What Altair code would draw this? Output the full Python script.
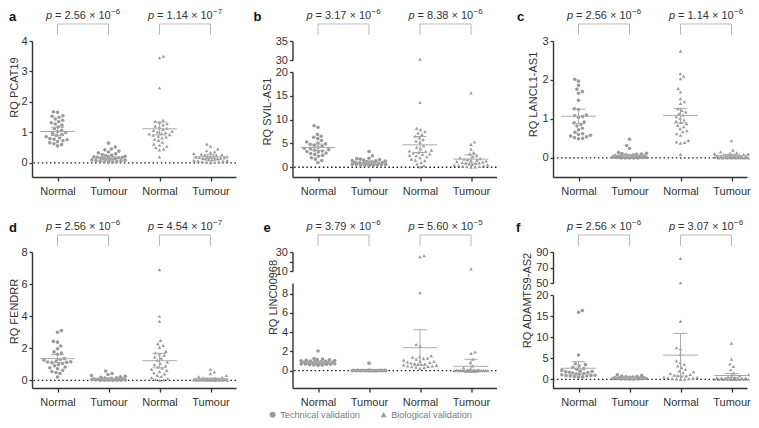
import math
import pandas as pd
import altair as alt

# ---------------- data ----------------
a_n1 = [1.68,1.66,1.55,1.53,1.50,1.44,1.40,1.36,1.32,1.28,1.24,1.18,1.12,1.07,1.03,1.00,0.97,0.93,0.90,0.86,0.82,0.80,0.78,0.76,0.73,0.70,0.66,0.63,0.60,0.56]
a_t1 = [0.65,0.52,0.46,0.43,0.39,0.36,0.33,0.30,0.28,0.26,0.24,0.22,0.21,0.20,0.19,0.18,0.17,0.16,0.15,0.14,0.13,0.12,0.11,0.10,0.09,0.08,0.07,0.06,0.05,0.04,0.03,0.02]
a_n2 = [3.50,3.45,2.46,1.40,1.37,1.33,1.29,1.25,1.21,1.18,1.14,1.10,1.07,1.04,1.02,0.99,0.97,0.95,0.93,0.91,0.88,0.85,0.82,0.78,0.74,0.68,0.62,0.58,0.55,0.50,0.46,0.43,0.20]
a_t2 = [0.62,0.55,0.46,0.40,0.37,0.34,0.31,0.29,0.27,0.25,0.24,0.23,0.22,0.21,0.20,0.19,0.18,0.17,0.16,0.15,0.14,0.13,0.12,0.11,0.10,0.09,0.08,0.07,0.06,0.05,0.04,0.03,0.02,0.01]
a_mean = [1.03, 0.16, 1.12, 0.20]
a_lo = [0.90, 0.11, 0.92, 0.14]
a_hi = [1.17, 0.21, 1.34, 0.27]
a_p = ["2.56", "1.14"]
a_exp = ["\u22126", "\u22127"]

b_n1 = [8.7,8.4,6.9,6.5,6.3,6.0,5.6,5.3,5.1,4.9,4.8,4.6,4.4,4.2,4.0,3.9,3.7,3.6,3.4,3.3,3.2,3.0,2.9,2.7,2.5,2.3,2.0,1.7,1.4,1.0]
b_t1 = [3.3,2.4,1.9,1.8,1.7,1.6,1.5,1.4,1.35,1.3,1.2,1.15,1.1,1.05,1.0,0.95,0.9,0.85,0.8,0.75,0.7,0.65,0.6,0.55,0.5,0.45,0.4,0.35,0.3,0.25]
b_n2 = [30.2,13.6,8.2,7.9,7.5,7.2,6.9,6.5,6.2,5.8,5.5,5.2,4.5,4.2,3.9,3.6,3.4,3.3,3.1,3.0,2.8,2.7,2.5,2.4,2.2,2.0,1.7,1.5,1.4,1.0,0.7,0.3,0.05]
b_t2 = [15.6,5.3,4.8,3.8,3.1,2.8,2.4,2.2,2.0,1.8,1.7,1.6,1.5,1.4,1.3,1.2,1.1,1.0,0.9,0.85,0.8,0.7,0.6,0.5,0.45,0.4,0.3,0.2,0.15,0.1,0.05,0.02]
b_mean = [4.15, 1.0, 4.7, 1.7]
b_lo = [3.5, 0.8, 3.1, 0.85]
b_hi = [4.85, 1.2, 6.45, 2.6]
b_p = ["3.17", "8.38"]
b_exp = ["\u22126", "\u22126"]

c_n1 = [2.02,1.97,1.86,1.76,1.70,1.66,1.48,1.26,1.24,1.10,1.08,1.06,1.04,0.92,0.90,0.86,0.82,0.76,0.72,0.66,0.62,0.60,0.58,0.56,0.54,0.52,0.50,0.49]
c_t1 = [0.48,0.32,0.24,0.14,0.12,0.11,0.10,0.09,0.08,0.07,0.06,0.06,0.05,0.05,0.04,0.04,0.03,0.03,0.02,0.02,0.01,0.01,0.01,0.0,0.0,0.0,0.0,0.0]
c_n2 = [2.74,2.16,2.10,2.03,1.78,1.69,1.52,1.44,1.40,1.26,1.22,1.18,1.14,1.10,1.06,1.02,0.98,0.94,0.91,0.88,0.84,0.80,0.75,0.70,0.67,0.62,0.58,0.45,0.41,0.40,0.38,0.09]
c_t2 = [0.44,0.20,0.15,0.13,0.12,0.11,0.10,0.09,0.08,0.07,0.06,0.06,0.05,0.05,0.04,0.04,0.03,0.03,0.02,0.02,0.01,0.01,0.0,0.0,0.0,0.0,0.0,0.0,0.0,0.0]
c_mean = [1.07, 0.06, 1.09, 0.06]
c_lo = [0.88, 0.03, 0.90, 0.03]
c_hi = [1.25, 0.09, 1.27, 0.09]
c_p = ["2.56", "1.14"]
c_exp = ["\u22126", "\u22126"]

d_n1 = [3.1,3.0,2.43,2.38,2.14,1.97,1.77,1.70,1.62,1.35,1.30,1.26,1.20,1.16,1.14,1.12,1.10,1.05,0.98,0.90,0.83,0.78,0.72,0.62,0.55,0.48,0.42,0.21]
d_t1 = [0.58,0.42,0.36,0.30,0.25,0.22,0.19,0.16,0.14,0.12,0.10,0.09,0.08,0.07,0.06,0.05,0.05,0.04,0.03,0.03,0.02,0.02,0.01,0.01,0.0,0.0,0.0,0.0]
d_n2 = [6.9,3.99,3.68,2.49,2.29,2.18,2.05,1.80,1.72,1.65,1.56,1.45,1.38,1.25,1.14,1.05,0.98,0.90,0.83,0.76,0.70,0.62,0.55,0.48,0.40,0.32,0.24,0.16,0.10,0.05,0.02,0.0]
d_t2 = [0.69,0.52,0.42,0.30,0.22,0.18,0.15,0.13,0.11,0.10,0.09,0.08,0.07,0.06,0.05,0.05,0.04,0.04,0.03,0.03,0.02,0.02,0.01,0.01,0.0,0.0,0.0,0.0,0.0,0.0]
d_mean = [1.35, 0.08, 1.22, 0.10]
d_lo = [1.10, 0.05, 0.78, 0.06]
d_hi = [1.60, 0.11, 1.68, 0.14]
d_p = ["2.56", "4.54"]
d_exp = ["\u22126", "\u22127"]

e_n1 = [2.04,1.26,1.20,1.15,1.12,1.08,1.05,1.02,1.0,0.98,0.95,0.92,0.9,0.88,0.86,0.84,0.82,0.80,0.78,0.76,0.74,0.72,0.70,0.68,0.66,0.64,0.62,0.60,0.58,0.55]
e_t1 = [0.78,0.05,0.04,0.04,0.03,0.03,0.03,0.02,0.02,0.02,0.02,0.01,0.01,0.01,0.01,0.01,0.0,0.0,0.0,0.0,0.0,0.0,0.0,0.0,0.0,0.0,0.0,0.0]
e_n2 = [26.0,25.0,8.1,2.72,2.55,1.53,1.45,1.40,1.30,1.25,1.19,1.10,1.00,0.95,0.90,0.85,0.80,0.75,0.72,0.68,0.65,0.60,0.55,0.50,0.48,0.45,0.40,0.35,0.30,0.24]
e_t2 = [12.1,1.94,1.80,1.19,0.85,0.50,0.30,0.15,0.10,0.08,0.06,0.05,0.04,0.03,0.02,0.02,0.01,0.01,0.0,0.0,0.0,0.0,0.0,0.0,0.0,0.0,0.0,0.0]
e_mean = [0.85, 0.02, 2.38, 0.45]
e_lo = [0.78, 0.0, 0.52, -0.20]
e_hi = [0.92, 0.05, 4.25, 1.18]
e_p = ["3.79", "5.60"]
e_exp = ["\u22126", "\u22125"]

f_n1 = [16.3,15.9,5.8,3.7,3.5,3.2,2.9,2.6,2.4,2.2,2.0,1.9,1.8,1.7,1.6,1.5,1.4,1.3,1.2,1.1,1.0,0.95,0.9,0.85,0.8,0.7,0.6,0.5]
f_t1 = [1.1,0.9,0.8,0.7,0.6,0.55,0.5,0.45,0.4,0.38,0.35,0.32,0.3,0.28,0.25,0.22,0.2,0.18,0.15,0.12,0.1,0.08,0.05,0.03]
f_n2 = [81.6,50.4,13.8,7.5,7.2,6.0,4.4,4.0,3.6,3.2,2.8,2.4,2.0,1.8,1.6,1.4,1.2,1.0,0.9,0.8,0.7,0.6,0.5,0.4,0.3,0.2,0.15,0.1,0.05,0.0]
f_t2 = [8.56,4.8,3.66,3.1,2.3,1.56,1.1,0.9,0.7,0.6,0.5,0.4,0.35,0.3,0.25,0.2,0.15,0.1,0.08,0.05,0.03,0.02,0.0,0.0,0.0,0.0,0.0,0.0]
f_mean = [2.65, 0.30, 5.76, 0.93]
f_lo = [1.30, 0.20, 0.80, 0.45]
f_hi = [4.20, 0.40, 10.9, 1.40]
f_p = ["2.56", "3.07"]
f_exp = ["\u22126", "\u22126"]

group_labels = ["Normal", "Tumour", "Normal", "Tumour"]
val_types = ["Technical validation", "Technical validation",
             "Biological validation", "Biological validation"]
legend_names = ["Technical validation", "Biological validation"]

# ---------------- style ----------------
FONT = "Liberation Sans"
DARK = "#333333"
PT = "#9b9b9b"
LN = "#a9a9a9"
BR = "#b8b8b8"
PXG = 51.0   # pixels between group centres
H = 136      # plot height of every panel
GAP = 12     # axis-break gap

panels = [
    dict(letter="a", ldx=-23, ytitle="RQ PCAT19", ty=46, tp=1, width=204,
         vals=[a_n1, a_t1, a_n2, a_t2], mean=a_mean, lo=a_lo, hi=a_hi, p=a_p, ex=a_exp,
         low=dict(domain=[-0.46, 4], ticks=[0, 1, 2, 3, 4]), up=None),
    dict(letter="b", ldx=-39, ytitle="RQ SVIL-AS1", ty=70, tp=3, width=204,
         vals=[b_n1, b_t1, b_n2, b_t2], mean=b_mean, lo=b_lo, hi=b_hi, p=b_p, ex=b_exp,
         low=dict(domain=[-2.05, 20], ticks=[0, 5, 10, 15, 20]),
         up=dict(domain=[30, 35], ticks=[30, 35], h=19)),
    dict(letter="c", ldx=-36, ytitle="RQ LANCL1-AS1", ty=53, tp=3, width=194,
         vals=[c_n1, c_t1, c_n2, c_t2], mean=c_mean, lo=c_lo, hi=c_hi, p=c_p, ex=c_exp,
         low=dict(domain=[-0.49, 3], ticks=[0, 1, 2, 3]), up=None),
    dict(letter="d", ldx=-23, ytitle="RQ FENDRR", ty=59, tp=1, width=204,
         vals=[d_n1, d_t1, d_n2, d_t2], mean=d_mean, lo=d_lo, hi=d_hi, p=d_p, ex=d_exp,
         low=dict(domain=[-0.48, 8], ticks=[0, 2, 4, 6, 8]), up=None),
    dict(letter="e", ldx=-29, ytitle="RQ LINC00968", ty=45, tp=3, width=204,
         vals=[e_n1, e_t1, e_n2, e_t2], mean=e_mean, lo=e_lo, hi=e_hi, p=e_p, ex=e_exp,
         low=dict(domain=[-1.8, 9.1], ticks=[0, 2, 4, 6, 8]),
         up=dict(domain=[10, 30], ticks=[10, 20, 30], h=19)),
    dict(letter="f", ldx=-37, ytitle="RQ ADAMTS9-AS2", ty=48, tp=3, width=194,
         vals=[f_n1, f_t1, f_n2, f_t2], mean=f_mean, lo=f_lo, hi=f_hi, p=f_p, ex=f_exp,
         low=dict(domain=[-2.03, 20], ticks=[0, 5, 10, 15, 20]),
         up=dict(domain=[50, 90], ticks=[50, 70, 90], h=31)),
]


def swarm(ypx, d=4.2, cap=17.0):
    """Beeswarm layout: horizontal pixel offsets so that dots do not overlap."""
    n = len(ypx)
    xs = [0.0] * n
    placed = []
    flip = 1
    for i in sorted(range(n), key=lambda k: ypx[k]):
        y = ypx[i]
        dd = d
        found = None
        while found is None:
            cands = {0.0}
            for px, py in placed:
                dy = abs(py - y)
                if dy < dd:
                    dx = math.sqrt(dd * dd - dy * dy)
                    cands.add(px + dx)
                    cands.add(px - dx)
            for c in sorted(cands, key=lambda c: (round(abs(c), 6), -flip * c)):
                if abs(c) > cap:
                    break
                if all((c - px) ** 2 + (y - py) ** 2 >= dd * dd - 1e-6 for px, py in placed):
                    found = c
                    break
            if found is None:
                dd *= 0.85
                if dd < 0.5:
                    found = 0.0
        if found != 0:
            flip = -flip
        xs[i] = found
        placed.append((found, y))
    return xs


def build_points(panel):
    up = panel["up"]
    low_h = H - (up["h"] + GAP if up else 0)
    rows = []
    for gi, vals in enumerate(panel["vals"]):
        ypx, segs = [], []
        for v in vals:
            if up and v >= up["domain"][0]:
                pxu = up["h"] / (up["domain"][1] - up["domain"][0])
                ypx.append(10000 + v * pxu)
                segs.append("up")
            else:
                pxu = low_h / (panel["low"]["domain"][1] - panel["low"]["domain"][0])
                ypx.append(v * pxu)
                segs.append("low")
        xs = swarm(ypx)
        for v, xo, sg in zip(vals, xs, segs):
            rows.append(dict(x=gi + 1 + xo / PXG, v=v, seg=sg, type=val_types[gi]))
    return pd.DataFrame(rows)


shape_enc = alt.Shape(
    "type:N",
    scale=alt.Scale(domain=legend_names, range=["circle", "triangle-up"]),
    legend=alt.Legend(title=None, orient="none", legendX=236, legendY=369,
                      direction="horizontal", symbolFillColor=PT, symbolStrokeColor=PT,
                      symbolStrokeWidth=0, symbolSize=36, labelColor="#7a7a7a",
                      labelFontSize=9.2, labelFont=FONT, columnPadding=19,
                      labelOffset=3, padding=0),
)


def make_panel(panel):
    pts = build_points(panel)
    up = panel["up"]
    low_h = H - (up["h"] + GAP if up else 0)
    xmax = 0.5 + panel["width"] / PXG
    xscale = alt.Scale(domain=[0.5, xmax], nice=False, zero=False)
    xaxis = alt.Axis(values=[1, 2, 3, 4],
                     labelExpr="datum.value % 2 == 1 ? 'Normal' : 'Tumour'",
                     title=None, grid=False, tickSize=4, labelPadding=4, labelFlush=False)
    yscale_low = alt.Scale(domain=panel["low"]["domain"], range=[H, H - low_h],
                           nice=False, zero=False)
    yaxis_low = alt.Axis(values=panel["low"]["ticks"], title=panel["ytitle"],
                         titleY=panel["ty"], grid=False, tickSize=3, labelPadding=2,
                         titlePadding=panel["tp"], orient="left")

    def X(f):
        return alt.X(f, type="quantitative", scale=xscale, axis=xaxis)

    def YL(f):
        return alt.Y(f, type="quantitative", scale=yscale_low, axis=yaxis_low)

    low_layers = []
    low_layers.append(
        alt.Chart(pd.DataFrame({"v": [0.0]})).mark_rule(
            color="#1a1a1a", strokeDash=[1.5, 2.6], strokeWidth=1.3).encode(y=YL("v")))
    low_layers.append(
        alt.Chart(pts[pts["seg"] == "low"]).mark_point(
            filled=True, size=13, color=PT, opacity=1, strokeWidth=0)
        .encode(x=X("x"), y=YL("v"), shape=shape_enc))
    st = pd.DataFrame({"g": [1, 2, 3, 4], "mean": panel["mean"],
                       "lo": panel["lo"], "hi": panel["hi"]})
    base = alt.Chart(st).transform_calculate(
        xl="datum.g - 0.34", xr="datum.g + 0.34",
        cl="datum.g - 0.13", cr="datum.g + 0.13")
    low_layers += [
        base.mark_rule(color=LN, strokeWidth=1).encode(x=X("xl"), x2="xr:Q", y=YL("mean")),
        base.mark_rule(color=LN, strokeWidth=1).encode(x=X("g"), y=YL("lo"), y2="hi:Q"),
        base.mark_rule(color=LN, strokeWidth=1).encode(x=X("cl"), x2="cr:Q", y=YL("lo")),
        base.mark_rule(color=LN, strokeWidth=1).encode(x=X("cl"), x2="cr:Q", y=YL("hi")),
    ]

    br = pd.DataFrame({"g1": [1, 3], "g2": [2, 4], "mid": [1.5, 3.5],
                       "pm": ["= " + v + " \u00d7 10" for v in panel["p"]],
                       "ex": panel["ex"]})
    bb = alt.Chart(br)
    annot = [
        bb.mark_rule(color=BR, strokeWidth=1).encode(x=X("g1"), x2="g2:Q", y=alt.value(-17)),
        bb.mark_rule(color=BR, strokeWidth=1).encode(x=X("g1"), y=alt.value(-17), y2=alt.value(-6)),
        bb.mark_rule(color=BR, strokeWidth=1).encode(x=X("g2"), y=alt.value(-17), y2=alt.value(-6)),
        bb.mark_text(align="left", baseline="alphabetic", dx=-37, fontSize=11,
                     fontStyle="italic", color=DARK, font=FONT)
          .encode(x=X("mid"), y=alt.value(-22), text=alt.value("p")),
        bb.mark_text(align="left", baseline="alphabetic", dx=-28, fontSize=11,
                     color=DARK, font=FONT)
          .encode(x=X("mid"), y=alt.value(-22), text="pm:N"),
        bb.mark_text(align="left", baseline="alphabetic", dx=28, dy=-5, fontSize=8,
                     color=DARK, font=FONT)
          .encode(x=X("mid"), y=alt.value(-22), text="ex:N"),
        alt.Chart(pd.DataFrame({"t": [panel["letter"]]})).mark_text(
            align="left", baseline="alphabetic", fontSize=13, fontWeight="bold",
            color="#111111", font=FONT)
          .encode(x=alt.value(panel["ldx"]), y=alt.value(-20), text="t:N"),
    ]

    if up is None:
        return alt.layer(*(low_layers + annot)).properties(width=panel["width"], height=H)

    yscale_up = alt.Scale(domain=up["domain"], range=[up["h"], 0], nice=False, zero=False)
    yaxis_up = alt.Axis(values=up["ticks"], title=None, grid=False, tickSize=3,
                        labelPadding=2, orient="left")
    up_layers = [
        alt.Chart(pts[pts["seg"] == "up"]).mark_point(
            filled=True, size=13, color=PT, opacity=1, strokeWidth=0)
        .encode(x=X("x"),
                y=alt.Y("v", type="quantitative", scale=yscale_up, axis=yaxis_up),
                shape=shape_enc)
    ] + annot
    return (
        alt.layer(alt.layer(*low_layers), alt.layer(*up_layers))
        .resolve_scale(y="independent")
        .resolve_axis(y="independent")
        .properties(width=panel["width"], height=H)
    )


chart = (
    alt.concat(*[make_panel(p) for p in panels], columns=3,
               spacing={"row": 75, "column": 56.5}, bounds="flush")
    .properties(padding=0, background="white")
    .configure(font=FONT)
    .configure_view(stroke=None)
    .configure_axis(domainColor=DARK, domainWidth=1.4, tickColor=DARK, tickWidth=1.3,
                    labelColor=DARK, labelFontSize=11, labelFont=FONT,
                    titleColor=DARK, titleFontSize=11, titleFont=FONT,
                    titleFontWeight="normal")
)

chart.save("out.html", embed_options={"renderer": "svg", "actions": False})
